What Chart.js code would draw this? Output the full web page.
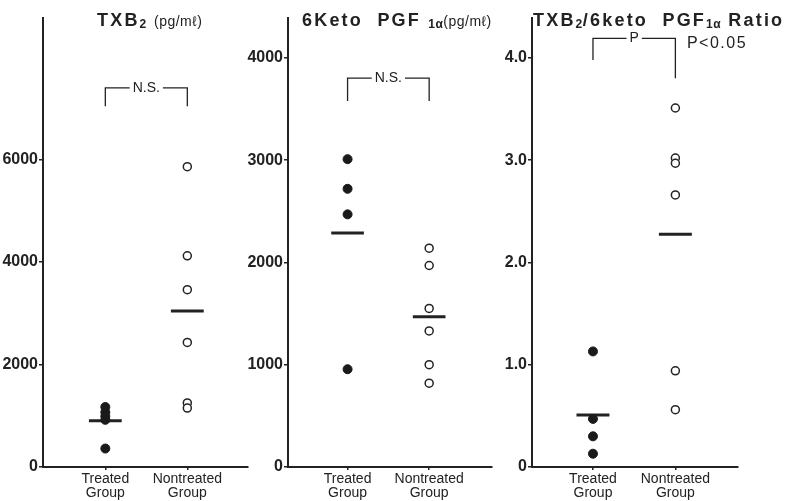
<!DOCTYPE html>
<html>
<head>
<meta charset="utf-8">
<script src="https://cdn.jsdelivr.net/npm/chart.js@4.4.1/dist/chart.umd.min.js"></script>
<style>
  body { margin: 0; background: #fff; }
  #wrap { position: relative; width: 791px; height: 501px; overflow: hidden; }
  canvas { position: absolute; top: 0; }
  .ttl { position: absolute; top: 10px; font: bold 18px "Liberation Sans", Arial, sans-serif; color: #222; white-space: nowrap; letter-spacing: 2.2px; }
  .ttl .sb { font-size: 12px; position: relative; top: 2px; letter-spacing: 0.5px; }
  .ttl .u { font-size: 14px; font-weight: normal; letter-spacing: 0.5px; }
</style>
</head>
<body>
<div id="wrap">
  <canvas id="c1" width="260" height="501" style="left:0px"></canvas>
  <canvas id="c2" width="259" height="501" style="left:245px"></canvas>
  <canvas id="c3" width="261" height="501" style="left:489px"></canvas>
  <div class="ttl" style="left:97px">TXB<span class="sb">2</span> <span class="u">(pg/mℓ)</span></div>
  <div class="ttl" style="left:302px">6Keto&nbsp; PGF <span class="sb">1α</span><span class="u">(pg/mℓ)</span></div>
  <div class="ttl" style="left:533px">TXB<span class="sb">2</span>/6keto&nbsp; PGF<span class="sb">1α</span> Ratio</div>
</div>
<script>
// categorias (eje x)
const grupos = [["Treated", "Group"], ["Nontreated", "Group"]];

// TXB2 (pg/ml)
const txbTratado = [1170, 1070, 990, 920, 360];
const txbNoTratado = [5860, 4120, 3460, 2430, 1250, 1150];
const txbTicks = [0, 2000, 4000, 6000];

// 6 keto PGF1a (pg/ml)
const ketoTratado = [3010, 2720, 2470, 956];
const ketoNoTratado = [2140, 1970, 1550, 1330, 1000, 820];
const ketoTicks = [0, 1000, 2000, 3000, 4000];

// razon TXB2 / 6keto
const razonTratado = [1.13, 0.47, 0.30, 0.13];
const razonNoTratado = [3.51, 3.02, 2.97, 2.66, 0.94, 0.56];
const razonTicks = [0, 1, 2, 3, 4];

const tinta = '#222';
Chart.defaults.font.family = '"Liberation Sans", Arial, sans-serif';
Chart.defaults.color = tinta;

function promedio(arr) {
  return arr.reduce((a, b) => a + b, 0) / arr.length;
}

// textos sobre el grafico (N.S., P ...)
const notas = {
  id: 'notas',
  afterDatasetsDraw(chart, args, opts) {
    const ctx = chart.ctx;
    const sx = chart.scales.x, sy = chart.scales.y;
    (opts.items || []).forEach(n => {
      const px = sx.getPixelForValue(n.x), py = sy.getPixelForValue(n.y);
      ctx.save();
      ctx.font = n.font;
      ctx.letterSpacing = n.espacio || '0px';
      ctx.textAlign = n.align || 'center';
      ctx.textBaseline = 'middle';
      if (n.fondo) {
        const w = ctx.measureText(n.text).width;
        ctx.fillStyle = '#fff';
        ctx.fillRect(px - w / 2 - 3, py - 6, w + 6, 12);
      }
      ctx.fillStyle = tinta;
      ctx.fillText(n.text, px, py);
      ctx.restore();
    });
  }
};

function crearGrafico(id, tratado, noTratado, yMax, ticks, formato, corchete, items, xMin) {
  const mT = promedio(tratado), mN = promedio(noTratado);
  return new Chart(document.getElementById(id), {
    type: 'scatter',
    data: {
      datasets: [
        {
          data: tratado.map(v => ({ x: 1, y: v })),
          pointRadius: 4.5, backgroundColor: '#1a1a1a', borderColor: '#1a1a1a', borderWidth: 1
        },
        {
          data: noTratado.map(v => ({ x: 2, y: v })),
          pointRadius: 4, backgroundColor: '#fff', borderColor: tinta, borderWidth: 1.5
        },
        { type: 'line', data: [{ x: 0.8, y: mT }, { x: 1.2, y: mT }], borderColor: tinta, borderWidth: 3, pointRadius: 0 },
        { type: 'line', data: [{ x: 1.8, y: mN }, { x: 2.2, y: mN }], borderColor: tinta, borderWidth: 3, pointRadius: 0 },
        {
          type: 'line',
          data: [{ x: 1, y: corchete[0] }, { x: 1, y: corchete[1] }, { x: 2, y: corchete[1] }, { x: 2, y: corchete[2] }],
          borderColor: tinta, borderWidth: 1.3, pointRadius: 0
        }
      ]
    },
    options: {
      responsive: false,
      animation: false,
      events: [],
      layout: { padding: { top: 18, right: 12, bottom: 0, left: 0 } },
      plugins: { legend: { display: false }, tooltip: { enabled: false }, notas: { items: items } },
      scales: {
        x: {
          type: 'linear', min: xMin, max: xMin + 2.5,
          afterBuildTicks: s => { s.ticks = [{ value: 1 }, { value: 2 }]; },
          afterFit: s => { s.height = 34; },
          ticks: { callback: v => grupos[v - 1], font: { size: 14, lineHeight: 1.0 }, padding: 2, maxRotation: 0 },
          grid: { drawOnChartArea: false, tickLength: 3, color: tinta, lineWidth: 1.5 },
          border: { color: tinta, width: 2 }
        },
        y: {
          min: 0, max: yMax,
          afterBuildTicks: s => { s.ticks = ticks.map(v => ({ value: v })); },
          afterFit: s => { s.width = 43; },
          ticks: { callback: formato, font: { size: 16, weight: 'bold' }, padding: 1 },
          grid: { drawOnChartArea: false, tickLength: 4, color: tinta, lineWidth: 1.5 },
          border: { color: tinta, width: 2 }
        }
      }
    },
    plugins: [notas]
  });
}

const fuenteNota = '14px "Liberation Sans", Arial';

crearGrafico('c1', txbTratado, txbNoTratado, 8760, txbTicks, v => String(v),
  [7040, 7395, 7040],
  [{ x: 1.5, y: 7395, text: 'N.S.', fondo: true, font: fuenteNota }], 0.24);

crearGrafico('c2', ketoTratado, ketoNoTratado, 4390, ketoTicks, v => String(v),
  [3578, 3802, 3578],
  [{ x: 1.5, y: 3802, text: 'N.S.', fondo: true, font: fuenteNota }], 0.27);

crearGrafico('c3', razonTratado, razonNoTratado, 4.39, razonTicks, v => (v === 0 ? '0' : v.toFixed(1)),
  [3.98, 4.19, 3.80],
  [
    { x: 1.5, y: 4.19, text: 'P', fondo: true, font: fuenteNota },
    { x: 2.14, y: 4.14, text: 'P<0.05', align: 'left', espacio: '1.5px', font: '16px "Liberation Sans", Arial' }
  ], 0.26);
</script>
</body>
</html>
